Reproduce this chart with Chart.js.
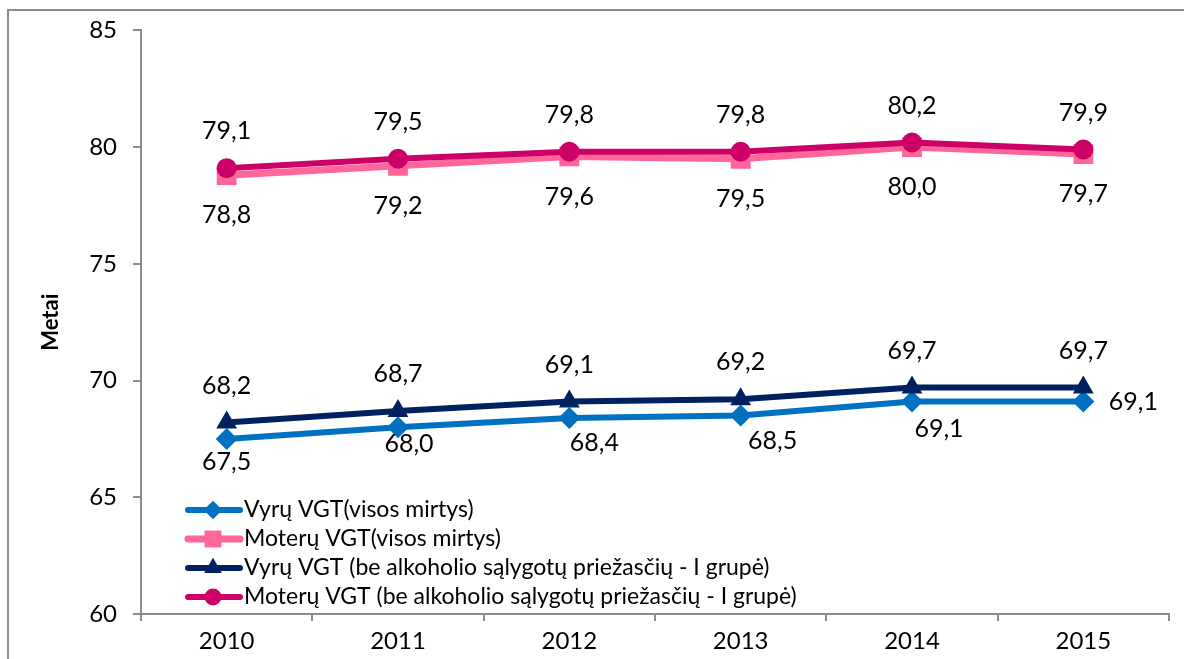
<!DOCTYPE html>
<html>
<head>
<meta charset="utf-8">
<script src="https://cdn.jsdelivr.net/npm/chart.js@4.4.1/dist/chart.umd.min.js"></script>
<style>
  html, body { margin: 0; padding: 0; background: #fff; }
  #wrap { width: 1184px; height: 659px; position: relative; }
</style>
</head>
<body>
<div id="wrap"><canvas id="lifeChart" width="1184" height="659"></canvas></div>
<script>
/* VGT chart */
const years = ["2010", "2011", "2012", "2013", "2014", "2015"];
const menAll = [67.5, 68.0, 68.4, 68.5, 69.1, 69.1];
const womenAll = [78.8, 79.2, 79.6, 79.5, 80.0, 79.7];
const menNoAlc = [68.2, 68.7, 69.1, 69.2, 69.7, 69.7];
const womenNoAlc = [79.1, 79.5, 79.8, 79.8, 80.2, 79.9];
const seriesNames = [
  "Vyrų VGT(visos mirtys)",
  "Moterų VGT(visos mirtys)",
  "Vyrų VGT (be alkoholio sąlygotų priežasčių - I grupė)",
  "Moterų VGT (be alkoholio sąlygotų priežasčių - I grupė)"
];
const yMin = 60, yMax = 85, yStep = 5;

const FONT = "Lato, 'Open Sans', sans-serif";
const AXIS = "#8c8c8c";

// where each series puts its value labels (label offsets from the point, px)
const labelShift = [
  [[0, 23], [11, 17], [25, 25], [32, 25], [27, 27], [50, 0]],
  null, null, null
];
const labelDy = [0, 40, -37, -37];

const valueLabels = {
  id: "valueLabels",
  afterDatasetsDraw(chart) {
    const ctx = chart.ctx;
    ctx.save();
    ctx.font = "25px " + FONT;
    ctx.fillStyle = "#000";
    ctx.textAlign = "center";
    ctx.textBaseline = "middle";
    chart.data.datasets.forEach((ds, i) => {
      chart.getDatasetMeta(i).data.forEach((pt, j) => {
        let dx = 0, dy = labelDy[i];
        if (labelShift[i]) { dx = labelShift[i][j][0]; dy = labelShift[i][j][1]; }
        ctx.fillText(ds.data[j].toFixed(1).replace(".", ","), pt.x + dx, pt.y + dy);
      });
    });
    ctx.restore();
  }
};

const frameAndLegend = {
  id: "frameAndLegend",
  beforeDraw(chart) {
    const ctx = chart.ctx;
    ctx.save();
    ctx.fillStyle = "#fff";
    ctx.fillRect(0, 0, chart.width, chart.height);
    ctx.strokeStyle = AXIS;
    ctx.lineWidth = 2;
    ctx.strokeRect(8, 10, 1190, 700);
    ctx.restore();
  },
  afterDraw(chart) {
    const ctx = chart.ctx;
    const rows = [510, 539, 568, 597];
    ctx.save();
    chart.data.datasets.forEach((ds, i) => {
      const y = rows[i];
      ctx.strokeStyle = ds.borderColor;
      ctx.lineWidth = ds.borderWidth;
      ctx.lineCap = "round";
      ctx.beginPath();
      ctx.moveTo(188, y);
      ctx.lineTo(240, y);
      ctx.stroke();
      ctx.fillStyle = ds.pointBackgroundColor;
      ctx.strokeStyle = ds.pointBackgroundColor;
      Chart.helpers.drawPoint(ctx, { pointStyle: ds.pointStyle, radius: ds.pointRadius * 0.85, borderWidth: 0, rotation: 0 }, 213, y);
      ctx.fillStyle = "#000";
      ctx.font = "23px " + FONT;
      ctx.textAlign = "left";
      ctx.textBaseline = "middle";
      ctx.fillText(seriesNames[i], 244, y);
    });
    ctx.restore();
  }
};

function makeSet(label, data, color, style, radius, width, order) {
  return {
    label, data,
    borderColor: color, backgroundColor: color,
    pointBackgroundColor: color, pointBorderColor: color, pointBorderWidth: 0,
    pointStyle: style, pointRadius: radius, pointHoverRadius: radius,
    borderWidth: width, tension: 0, fill: false, order
  };
}

new Chart(document.getElementById("lifeChart"), {
  type: "line",
  data: {
    labels: years,
    datasets: [
      makeSet(seriesNames[0], menAll, "#0070C0", "rectRot", 11, 6, 4),
      makeSet(seriesNames[1], womenAll, "#FF6699", "rect", 14, 7, 3),
      makeSet(seriesNames[2], menNoAlc, "#002060", "triangle", 12, 6, 2),
      makeSet(seriesNames[3], womenNoAlc, "#CC0066", "circle", 10, 6, 1)
    ]
  },
  options: {
    responsive: false,
    animation: false,
    events: [],
    layout: { padding: { left: 0, top: 29, right: 15, bottom: 0 } },
    plugins: { legend: { display: false }, tooltip: { enabled: false } },
    scales: {
      x: {
        offset: true,
        grid: { offset: true, drawOnChartArea: false, drawTicks: true, tickLength: 7, color: AXIS, lineWidth: 2 },
        border: { color: AXIS, width: 2 },
        ticks: { color: "#000", font: { family: FONT, size: 24 }, padding: 6, maxRotation: 0 },
        afterFit(s) { s.height = 45; }
      },
      y: {
        min: yMin, max: yMax,
        grid: { drawOnChartArea: false, drawTicks: true, tickLength: 8, color: AXIS, lineWidth: 2 },
        border: { color: AXIS, width: 2 },
        ticks: { stepSize: yStep, color: "#000", font: { family: FONT, size: 24 }, padding: 16 },
        title: { display: true, text: "Metai", color: "#000", font: { family: FONT, size: 22, weight: "bold" }, padding: { top: 38, bottom: 0 } },
        afterFit(s) { s.width = 141; }
      }
    }
  },
  plugins: [frameAndLegend, valueLabels]
});
</script>
</body>
</html>
